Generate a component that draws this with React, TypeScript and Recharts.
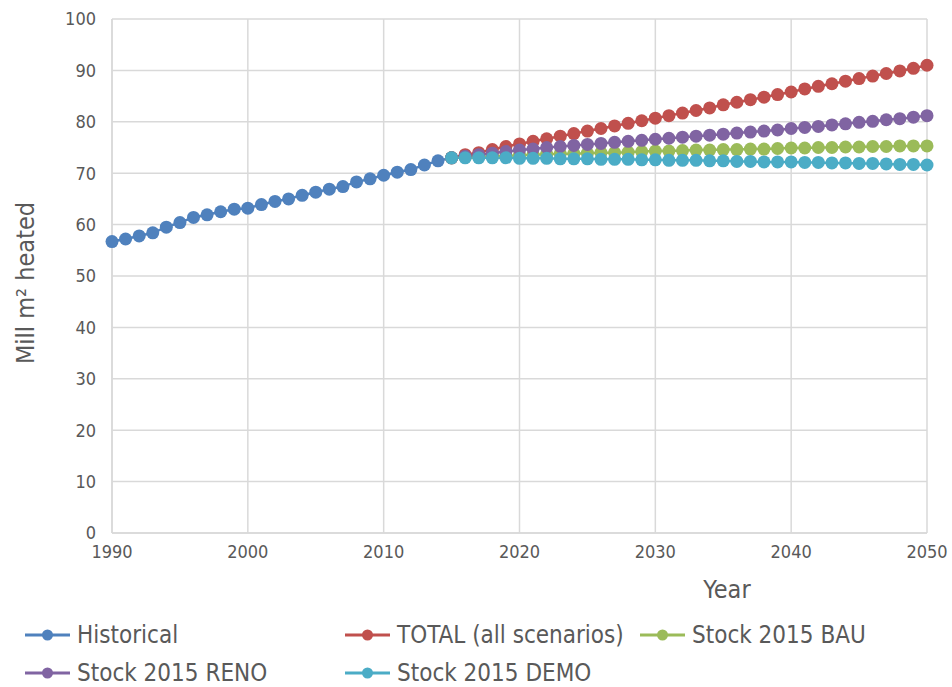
import React from "react";
import { LineChart, Line, XAxis, YAxis, CartesianGrid, Label } from "recharts";

const FONT = "'Liberation Sans Narrow', 'DejaVu Sans Condensed', 'Open Sans', sans-serif";

// categories
const FIRST_YEAR = 1990;
const LAST_YEAR = 2050;
const X_TICKS = [1990, 2000, 2010, 2020, 2030, 2040, 2050];
const Y_TICKS = [0, 10, 20, 30, 40, 50, 60, 70, 80, 90, 100];

// 1990..2015
const historical = [
  56.7, 57.2, 57.8, 58.4, 59.5, 60.4, 61.4, 61.9, 62.5, 63.0, 63.2, 63.9, 64.5,
  65.0, 65.7, 66.3, 66.9, 67.4, 68.3, 68.9, 69.6, 70.2, 70.7, 71.6, 72.4, 73.0,
];

// 2015..2050
const PROJ_START = 2015;
const total = [
  73.0, 73.6, 74.0, 74.6, 75.2, 75.7, 76.2, 76.7, 77.2, 77.7, 78.2, 78.7, 79.2,
  79.7, 80.2, 80.7, 81.2, 81.7, 82.2, 82.7, 83.3, 83.8, 84.3, 84.8, 85.3, 85.8,
  86.4, 86.9, 87.4, 87.9, 88.4, 88.9, 89.4, 89.9, 90.4, 91.0,
];
const reno = [
  73.0, 73.3, 73.6, 73.9, 74.2, 74.5, 74.7, 75.0, 75.2, 75.4, 75.6, 75.8, 76.0,
  76.2, 76.4, 76.6, 76.8, 77.0, 77.2, 77.4, 77.6, 77.8, 78.0, 78.2, 78.4, 78.7,
  78.9, 79.1, 79.4, 79.6, 79.9, 80.1, 80.4, 80.6, 80.9, 81.2,
];
const bau = [
  73.0, 73.1, 73.2, 73.3, 73.4, 73.5, 73.6, 73.7, 73.8, 73.8, 73.9, 74.0, 74.0,
  74.1, 74.2, 74.3, 74.3, 74.4, 74.5, 74.5, 74.6, 74.6, 74.7, 74.7, 74.8, 74.9,
  74.9, 75.0, 75.0, 75.1, 75.1, 75.2, 75.2, 75.3, 75.3, 75.3,
];
const demo = [
  73.0, 73.0, 73.0, 73.0, 73.0, 72.9, 72.9, 72.9, 72.8, 72.8, 72.8, 72.7, 72.7,
  72.7, 72.6, 72.6, 72.5, 72.5, 72.5, 72.4, 72.4, 72.3, 72.3, 72.2, 72.2, 72.2,
  72.1, 72.1, 72.0, 72.0, 71.9, 71.9, 71.8, 71.7, 71.7, 71.6,
];

const SERIES = [
  { key: "historical", name: "Historical", color: "#4F81BD" },
  { key: "total", name: "TOTAL (all scenarios)", color: "#C0504D" },
  { key: "bau", name: "Stock 2015 BAU", color: "#9BBB59" },
  { key: "reno", name: "Stock 2015 RENO", color: "#8064A2" },
  { key: "demo", name: "Stock 2015 DEMO", color: "#4BACC6" },
];

const chartData: Record<string, number | null>[] = [];
for (let y = FIRST_YEAR; y <= LAST_YEAR; y++) {
  const h = y - FIRST_YEAR;
  const p = y - PROJ_START;
  chartData.push({
    year: y,
    historical: h < historical.length ? historical[h] : null,
    total: p >= 0 ? total[p] : null,
    bau: p >= 0 ? bau[p] : null,
    reno: p >= 0 ? reno[p] : null,
    demo: p >= 0 ? demo[p] : null,
  });
}

// legend placement (two rows like the original)
const LEGEND_POS = [
  { left: 25, top: 621 },
  { left: 345, top: 621 },
  { left: 640, top: 621 },
  { left: 25, top: 659 },
  { left: 345, top: 659 },
];

export default function App() {
  return (
    <div style={{ position: "absolute", left: 0, top: 0, width: 952, height: 687, background: "#fff", fontFamily: FONT, overflow: "hidden" }}>
      <LineChart width={952} height={687} data={chartData}
        margin={{ top: 19, right: 25, bottom: 124, left: 52 }}>
        <CartesianGrid stroke="#d9d9d9" strokeWidth={1.5} />
        <XAxis dataKey="year" type="number" domain={[FIRST_YEAR, LAST_YEAR]} ticks={X_TICKS}
          height={30} tickSize={0} tickMargin={12} axisLine={{ stroke: "#d9d9d9", strokeWidth: 1.5 }}
          tick={{ fontSize: 18, fill: "#595959", fontFamily: FONT }}>
          <Label content={({ viewBox }: any) => (
            <text x={viewBox.x + 615} y={viewBox.y + 65} textAnchor="middle"
              fontSize={25} fill="#595959" fontFamily={FONT}>Year</text>
          )} />
        </XAxis>
        <YAxis domain={[0, 100]} ticks={Y_TICKS} width={60} tickSize={0} tickMargin={16}
          axisLine={{ stroke: "#d9d9d9", strokeWidth: 1.5 }}
          tick={{ fontSize: 18, fill: "#595959", fontFamily: FONT }}>
          <Label content={() => (
            <text x={34} y={283} transform="rotate(-90 34 283)" textAnchor="middle"
              fontSize={25} fill="#595959" fontFamily={FONT}>Mill m² heated</text>
          )} />
        </YAxis>
        {SERIES.map((s) => (
          <Line key={s.key} dataKey={s.key} name={s.name} stroke={s.color} strokeWidth={2.5}
            dot={{ r: 6.5, fill: s.color, stroke: s.color, strokeWidth: 0 }}
            activeDot={false} isAnimationActive={false} />
        ))}
      </LineChart>
      {SERIES.map((s, i) => (
        <div key={s.key} style={{ position: "absolute", left: LEGEND_POS[i].left, top: LEGEND_POS[i].top,
          display: "flex", alignItems: "center", height: 28, lineHeight: "28px", whiteSpace: "nowrap" }}>
          <svg width={48} height={28}>
            <line x1={0} y1={14} x2={45} y2={14} stroke={s.color} strokeWidth={3} />
            <circle cx={22.5} cy={14} r={5.5} fill={s.color} />
          </svg>
          <span style={{ fontSize: 24, color: "#595959", marginLeft: 4 }}>{s.name}</span>
        </div>
      ))}
    </div>
  );
}
